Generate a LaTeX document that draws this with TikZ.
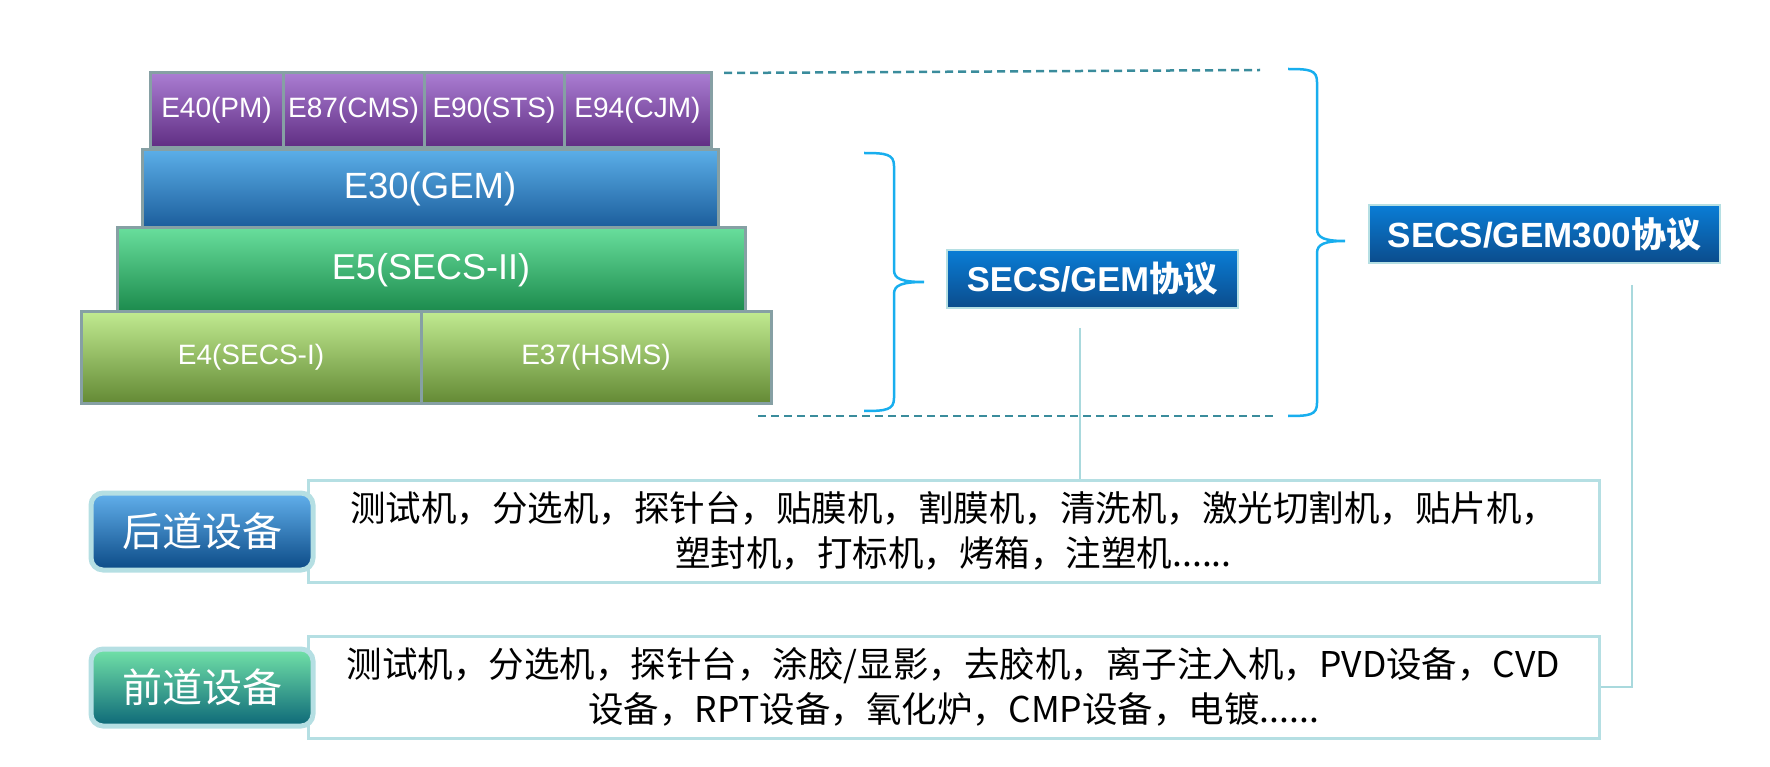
\documentclass[tikz,border=0pt]{standalone}
\usepackage{fontspec}
\setmainfont{Liberation Sans}
\newfontfamily\cjk{Noto Sans CJK SC}
\definecolor{edgegray}{HTML}{86A0A4}
\definecolor{paleline}{HTML}{B5DFE3}
\definecolor{bracecol}{HTML}{18AEEE}
\definecolor{dashcol}{HTML}{3A8C9C}
\definecolor{linkcol}{HTML}{A9D9DD}
\definecolor{purtop}{HTML}{AA7DD2}
\definecolor{purbot}{HTML}{5F2D82}
\definecolor{bluetop}{HTML}{5BAEE8}
\definecolor{bluebot}{HTML}{1A5C9A}
\definecolor{greentop}{HTML}{68DE9C}
\definecolor{greenbot}{HTML}{1B8A4C}
\definecolor{limetop}{HTML}{C0EA90}
\definecolor{limebot}{HTML}{648A35}
\definecolor{gemtop}{HTML}{0A7DD6}
\definecolor{gembot}{HTML}{0B4C8C}
\definecolor{backtop}{HTML}{62B0EC}
\definecolor{backbot}{HTML}{0B4A86}
\definecolor{fronttop}{HTML}{72E2A8}
\definecolor{frontbot}{HTML}{0D6878}
\begin{document}
\begin{tikzpicture}[x=1pt,y=-1pt,
	layer/.style={draw=edgegray, line width=3pt, inner sep=0pt, text=white},
	cell/.style={layer, top color=purtop, bottom color=purbot, minimum height=75pt, font=\fontsize{28}{33}\selectfont},
	proto/.style={draw=paleline, line width=2pt, inner sep=0pt, top color=gemtop, bottom color=gembot, text=white, minimum height=58pt},
	tag/.style={draw=paleline, line width=5pt, rounded corners=12pt, inner sep=0pt, text=white, minimum width=222pt, minimum height=77pt, font=\cjk\fontsize{40}{48}\selectfont},
	desc/.style={draw=paleline, line width=3pt, fill=white, inner sep=0pt, minimum width=1291pt, minimum height=102pt, align=center, font=\cjk\fontsize{35.5}{45}\selectfont},
	bracepath/.style={draw=bracecol, line width=2.5pt},
	dashline/.style={draw=dashcol, line width=2.5pt, dash pattern=on 8pt off 5pt},
	link/.style={draw=linkcol, line width=2pt}]
	\useasboundingbox (0,0) rectangle (1770,767);
	\node (e40) at (216.5,110.5) [cell, minimum width=133pt] {E40(PM)};
	\node (e87) at (353.5,110.5) [cell, minimum width=141pt] {E87(CMS)};
	\node (e90) at (494,110.5) [cell, minimum width=140pt] {E90(STS)};
	\node (e94) at (637.5,110.5) [cell, minimum width=147pt] {E94(CJM)};
	\node (e30) at (430,189.5) [layer, top color=bluetop, bottom color=bluebot, minimum width=576pt, minimum height=79pt, font=\fontsize{36.5}{43}\selectfont] {E30(GEM)};
	\node (e5) at (431,270) [layer, top color=greentop, bottom color=greenbot, minimum width=628pt, minimum height=84pt, font=\fontsize{36}{43}\selectfont] {E5(SECS-II)};
	\node (e4) at (251,357.5) [layer, top color=limetop, bottom color=limebot, minimum width=340pt, minimum height=91pt, font=\fontsize{28}{34}\selectfont] {E4(SECS-I)};
	\node (e37) at (596,357.5) [layer, top color=limetop, bottom color=limebot, minimum width=350pt, minimum height=91pt, font=\fontsize{28}{34}\selectfont] {E37(HSMS)};
	\node (gem) at (1092.5,279) [proto, minimum width=291pt, font=\bfseries\fontsize{34.5}{41}\selectfont] {SECS/GEM{\cjk 协议}};
	\node (gem300) at (1544.5,234) [proto, minimum width=351pt, font=\bfseries\fontsize{35}{42}\selectfont] {SECS/GEM300{\cjk 协议}};
	\node (backtext) at (953.5,531) [desc] {测试机，分选机，探针台，贴膜机，割膜机，清洗机，激光切割机，贴片机，\\塑封机，打标机，烤箱，注塑机......};
	\node (fronttext) at (953.5,687) [desc] {测试机，分选机，探针台，涂胶/显影，去胶机，离子注入机，PVD设备，CVD\\设备，RPT设备，氧化炉，CMP设备，电镀......};
	\node (back) at (202,531.5) [tag, top color=backtop, bottom color=backbot] {后道设备};
	\node (front) at (202,687.5) [tag, top color=fronttop, bottom color=frontbot] {前道设备};
	\draw[bracepath] (864,153) .. controls (886,153) and (894,154) .. (894,166) -- (894,270) .. controls (894,279) and (902,282) .. (924,282) .. controls (902,282) and (894,285) .. (894,294) -- (894,398) .. controls (894,410) and (886,411) .. (864,411);
	\draw[bracepath] (1288,69) .. controls (1310,69) and (1317,70) .. (1317,82) -- (1317,229) .. controls (1317,238) and (1325,241) .. (1345,241) .. controls (1325,241) and (1317,244) .. (1317,253) -- (1317,403) .. controls (1317,415) and (1310,416) .. (1288,416);
	\coordinate (dtopa) at (724,73);
	\coordinate (dtopb) at (1260,70);
	\coordinate (dbota) at (758,416);
	\coordinate (dbotb) at (1273,416);
	\draw[dashline] (dtopa) -- (dtopb);
	\draw[dashline] (dbota) -- (dbotb);
	\coordinate (gemfoot) at (1080,328);
	\coordinate (gemtfoot) at (1632,285);
	\draw[link] (gemfoot) -- (gemfoot |- backtext.north);
	\draw[link] (gemtfoot) |- (fronttext.east);
\end{tikzpicture}
\end{document}
